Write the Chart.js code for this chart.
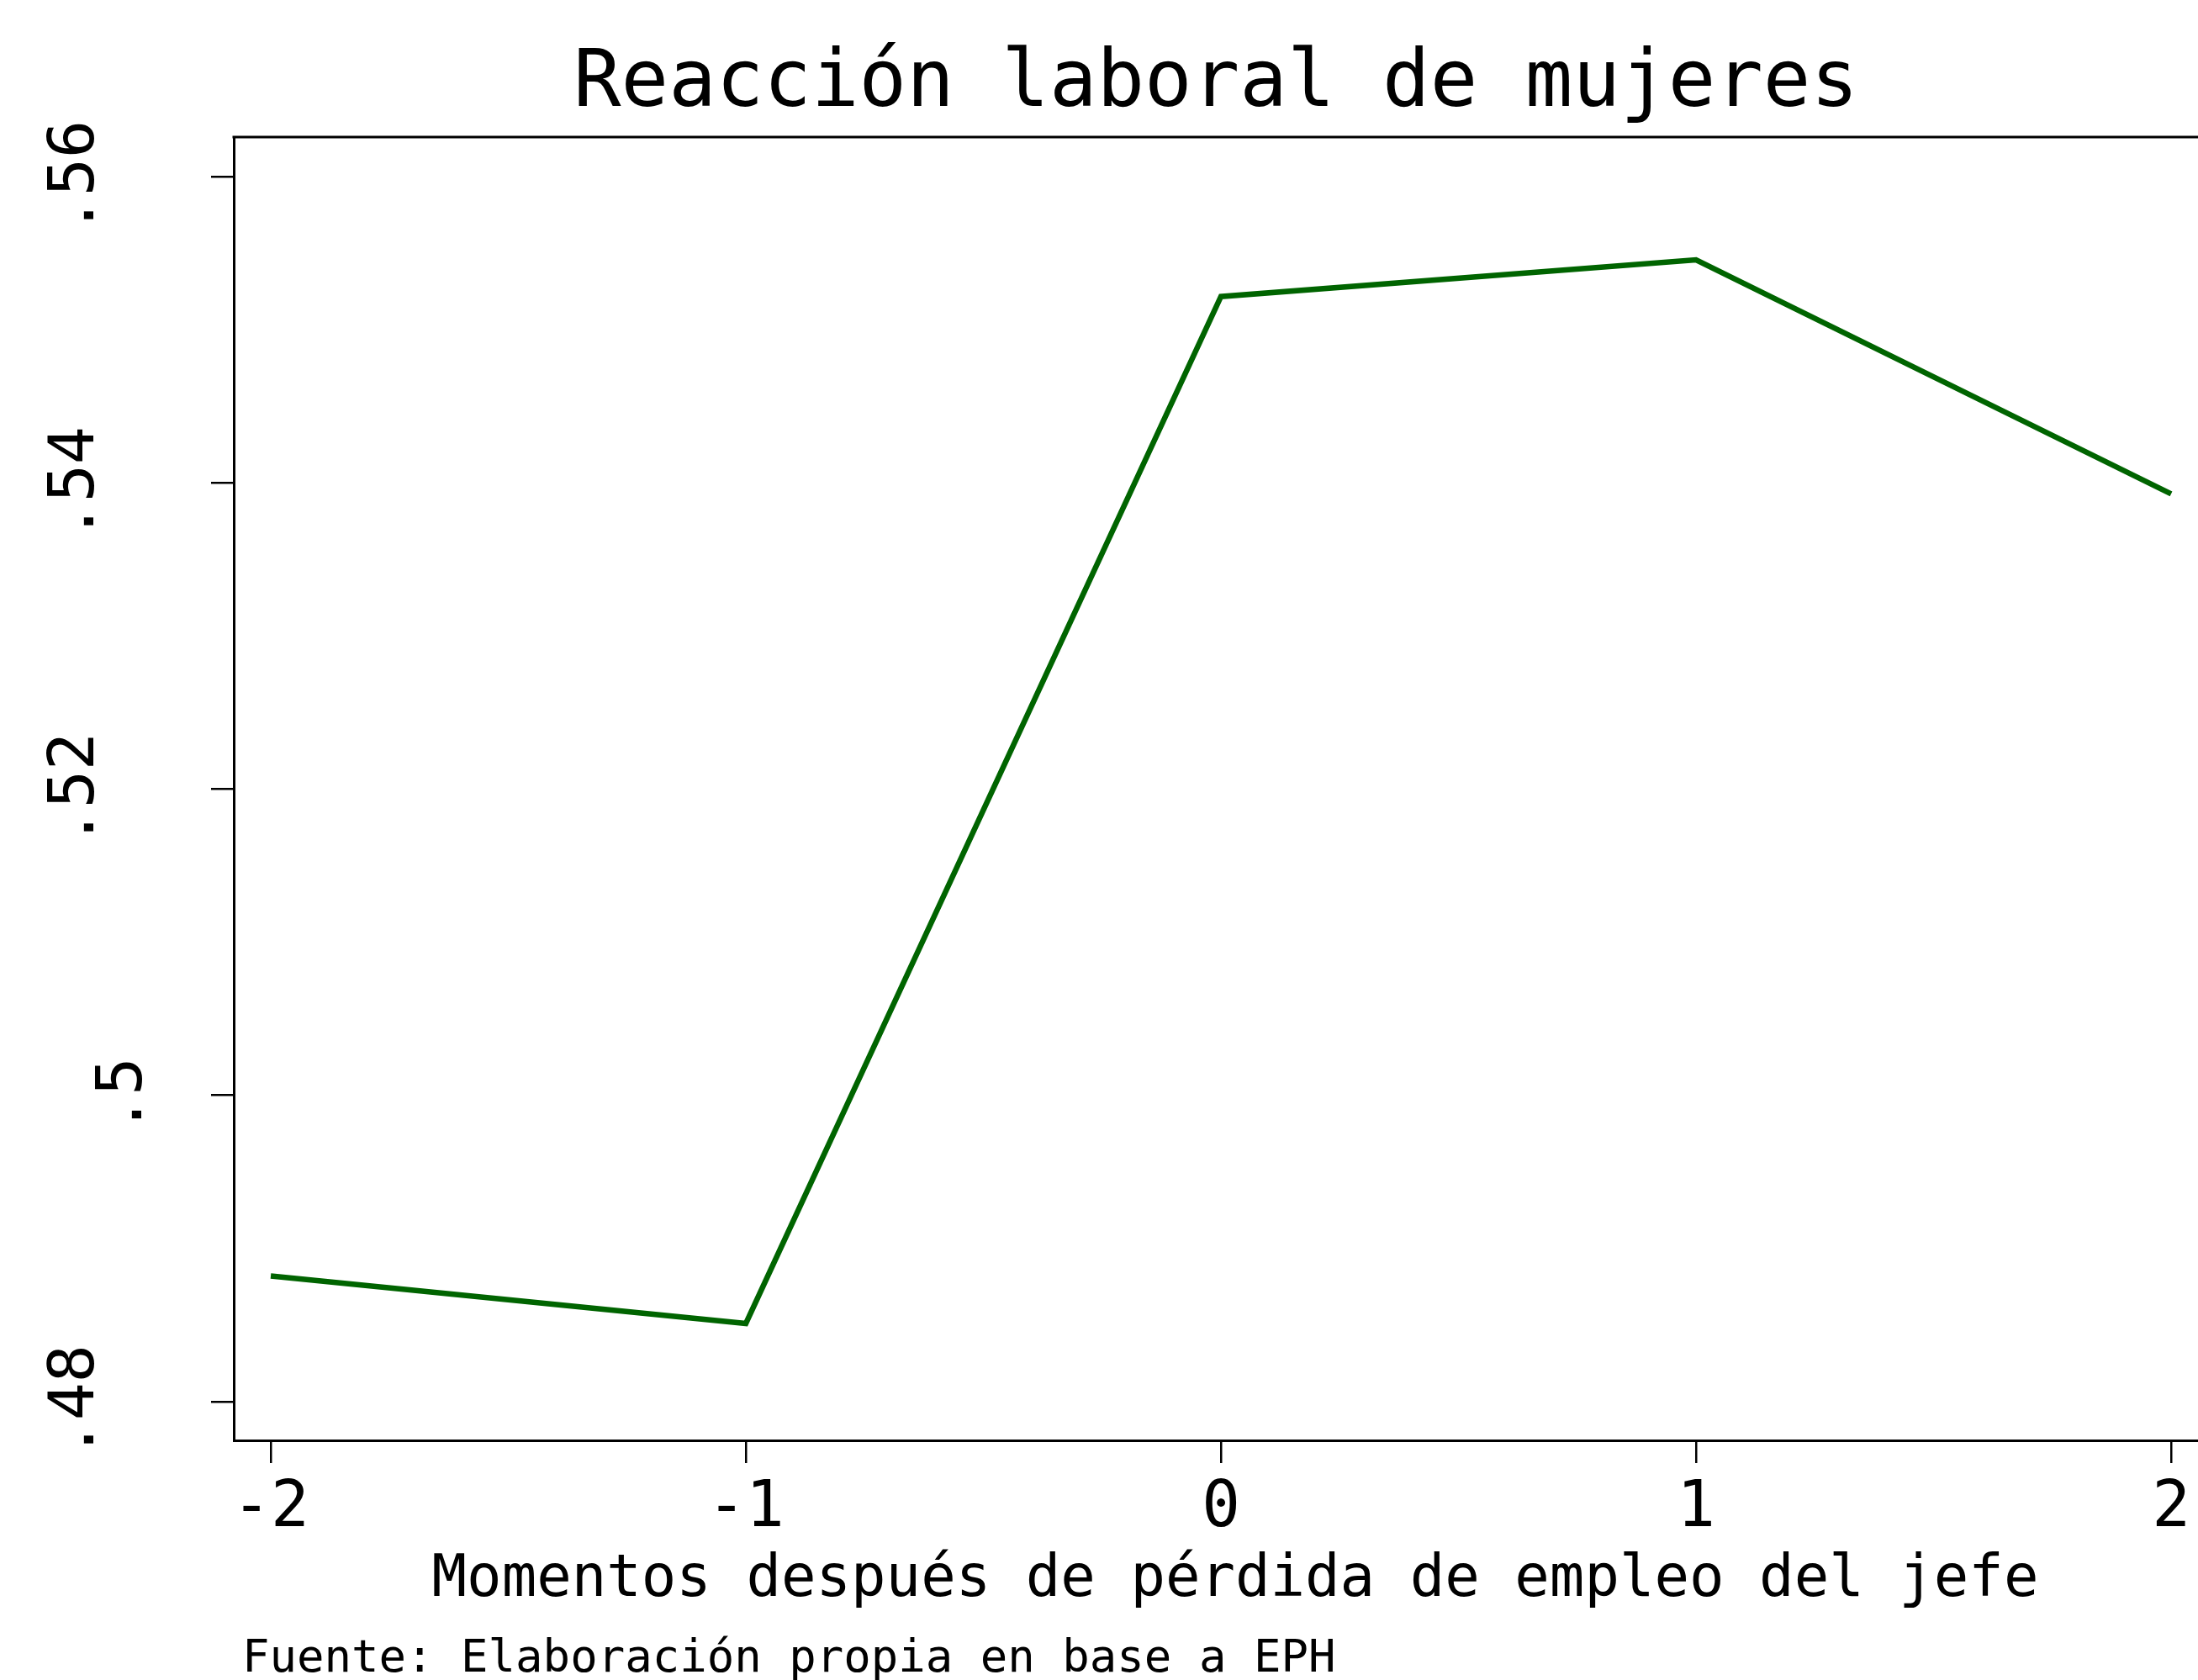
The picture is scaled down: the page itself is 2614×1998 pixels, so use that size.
<!DOCTYPE html>
<html>
<head>
<meta charset="utf-8">
<script src="https://cdn.jsdelivr.net/npm/chart.js@4/dist/chart.umd.min.js"></script>
<style>
  html, body { margin: 0; padding: 0; background: #ffffff; overflow: hidden; }
  canvas { display: block; }
</style>
</head>
<body>
<canvas id="c" width="2614" height="1998"></canvas>
<script>
// ---- data ----
const xValues = [-2, -1, 0, 1, 2];
const seriesValues = [0.4882, 0.4851, 0.5522, 0.5546, 0.5393];
const xTickValues = [-2, -1, 0, 1, 2];
const xTickLabels = ['-2', '-1', '0', '1', '2'];
const yTickValues = [0.48, 0.50, 0.52, 0.54, 0.56];
const yTickLabels = ['.48', '.5', '.52', '.54', '.56'];
const titleText = 'Reacción laboral de mujeres';
const xTitleText = 'Momentos después de pérdida de empleo del jefe';
const noteText = 'Fuente: Elaboración propia en base a EPH';

const FONT = "'DejaVu Sans Mono', monospace";

const framePlugin = {
  id: 'frameTop',
  afterDraw(chart) {
    const {ctx, chartArea} = chart;
    ctx.save();
    ctx.strokeStyle = '#000';
    ctx.lineWidth = 3;
    ctx.beginPath();
    ctx.moveTo(chartArea.left - 1.5, chartArea.top);
    ctx.lineTo(chartArea.right + 10, chartArea.top);
    ctx.stroke();
    ctx.restore();
  }
};

const textPlugin = {
  id: 'extraText',
  afterDraw(chart) {
    const {ctx} = chart;
    const ys = chart.scales.y;
    ctx.save();
    ctx.fillStyle = '#000';
    // rotated y tick labels
    ctx.font = '75px ' + FONT;
    ctx.textAlign = 'center';
    ctx.textBaseline = 'alphabetic';
    ys.ticks.forEach((t) => {
      const idx = yTickValues.findIndex(v => Math.abs(v - t.value) < 1e-9);
      if (idx < 0) return;
      const label = yTickLabels[idx];
      const py = ys.getPixelForValue(t.value);
      const bx = 168 - 57 * (label.length - 2);
      ctx.save();
      ctx.translate(bx, py);
      ctx.rotate(-Math.PI / 2);
      ctx.fillText(label, 0, 0);
      ctx.restore();
    });
    // x axis title
    ctx.font = '69px ' + FONT;
    ctx.textAlign = 'center';
    ctx.fillText(xTitleText, 1469, 1898);
    // source note
    ctx.font = '54px ' + FONT;
    ctx.textAlign = 'left';
    ctx.fillText(noteText, 288, 1988);
    ctx.restore();
  }
};

new Chart(document.getElementById('c'), {
  type: 'line',
  data: {
    datasets: [{
      data: xValues.map((x, i) => ({x: x, y: seriesValues[i]})),
      borderColor: '#006400',
      backgroundColor: '#006400',
      borderWidth: 6.5,
      pointRadius: 0,
      tension: 0,
      fill: false,
      borderJoinStyle: 'miter',
      borderCapStyle: 'butt'
    }]
  },
  options: {
    responsive: false,
    animation: false,
    devicePixelRatio: 1,
    layout: { padding: 0 },
    plugins: {
      legend: { display: false },
      tooltip: { enabled: false },
      title: {
        display: true,
        text: titleText,
        fullSize: false,
        color: '#000',
        font: { family: FONT, size: 94, weight: 'normal', lineHeight: 1 },
        padding: { top: 55, bottom: 14 }
      }
    },
    scales: {
      x: {
        type: 'linear',
        min: -2.0779,
        max: 2.0566,
        afterBuildTicks: (s) => { s.ticks = xTickValues.map(v => ({value: v})); },
        afterFit: (s) => { s.height = 285; },
        ticks: {
          color: '#000',
          padding: 7,
          maxRotation: 0,
          minRotation: 0,
          font: { family: FONT, size: 76, lineHeight: 1.276 },
          callback: (v) => {
            const i = xTickValues.indexOf(v);
            return i >= 0 ? xTickLabels[i] : '';
          }
        },
        grid: {
          display: true,
          drawOnChartArea: false,
          drawTicks: true,
          tickLength: 27,
          color: '#000',
          lineWidth: 2.5
        },
        border: { display: true, color: '#000', width: 3 }
      },
      y: {
        type: 'linear',
        min: 0.47746,
        max: 0.56262,
        afterBuildTicks: (s) => { s.ticks = yTickValues.map(v => ({value: v})); },
        afterFit: (s) => { s.width = 278; },
        ticks: { display: false },
        grid: {
          display: true,
          drawOnChartArea: false,
          drawTicks: true,
          tickLength: 27,
          color: '#000',
          lineWidth: 2.5
        },
        border: { display: true, color: '#000', width: 3 }
      }
    }
  },
  plugins: [framePlugin, textPlugin]
});
</script>
</body>
</html>
